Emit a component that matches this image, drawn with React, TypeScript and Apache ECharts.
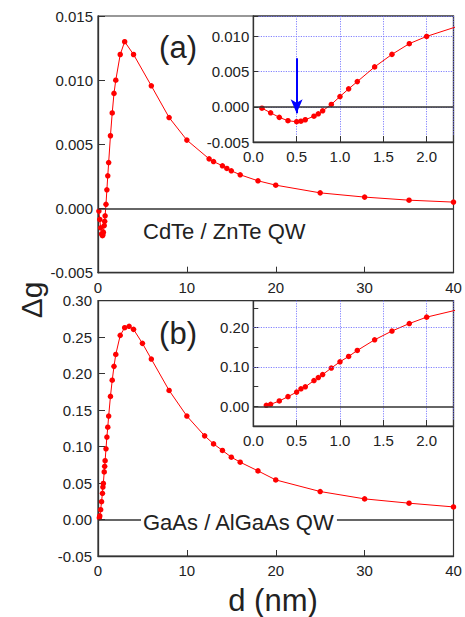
import { useEffect, useRef } from 'react';
import * as echarts from 'echarts';

const FONT = '"Liberation Sans", Arial, Helvetica, sans-serif';

// CdTe / ZnTe quantum well: well width d (nm) and g-factor difference
const cdteD = [0.1, 0.2, 0.3, 0.4, 0.5, 0.55, 0.6, 0.7, 0.75, 0.8, 0.9, 1.0, 1.1, 1.2, 1.4, 1.6, 1.8, 2.0, 2.5, 3, 4, 6, 8, 10, 12.5, 13, 14, 14.5, 15, 16, 18, 20, 25, 30, 35, 40];
const cdteG = [-0.0002, -0.00085, -0.0015, -0.00198, -0.00212, -0.00204, -0.00184, -0.00133, -0.001, -0.00057, 0.00033, 0.00146, 0.00255, 0.00358, 0.00567, 0.00745, 0.00897, 0.01, 0.012, 0.013, 0.012, 0.00956, 0.00709, 0.00533, 0.00387, 0.00366, 0.00333, 0.00312, 0.00294, 0.00263, 0.00216, 0.00182, 0.00122, 0.00089, 0.00065, 0.0005];

// GaAs / AlGaAs quantum well
const gaasD = [0.15, 0.2, 0.3, 0.4, 0.5, 0.55, 0.6, 0.7, 0.75, 0.8, 0.9, 1.0, 1.1, 1.2, 1.4, 1.6, 1.8, 2.0, 2.5, 3.0, 3.5, 4, 5, 6, 8, 10, 12, 13, 14, 15, 16, 18, 20, 25, 30, 35, 40];
const gaasG = [0.0025, 0.005, 0.0135, 0.0245, 0.036, 0.0445, 0.0494, 0.0653, 0.073, 0.0806, 0.097, 0.113, 0.1266, 0.1418, 0.1688, 0.191, 0.21, 0.2263, 0.2525, 0.263, 0.2649, 0.2607, 0.2415, 0.22, 0.177, 0.1418, 0.1147, 0.1037, 0.0947, 0.0855, 0.0786, 0.0667, 0.0543, 0.0384, 0.0283, 0.0224, 0.0173];

// horizontal grid lines of the GaAs inset (its ticks run every 0.05)
const insetBottomGridY = [0.1, 0.2];

// arrow marking the minimum in the CdTe inset (d, start g, end g)
const arrowD = 0.5;
const arrowFromG = 0.0069;
const arrowToG = -0.0009;

const RED = '#ff0000';
const AXIS = '#333';
const TEXT = '#222';

const pairs = (xs: number[], ys: number[]) => xs.map((x, i) => [x, ys[i]]);

const fmtStep = (step: number, digits: number) => (v: number) => {
  const k = v / step;
  if (Math.abs(k - Math.round(k)) > 1e-6) return '';
  return (Math.abs(v) < 1e-12 ? 0 : v).toFixed(digits);
};

const gridStyle = { color: '#6d6dff', width: 1, type: [1.2, 1.3], opacity: 0.85 };
const zeroStyle = { color: '#333', width: 1.5, type: 'solid' as const };

function xAxisCfg(gridIndex: number, inset: boolean) {
  return {
    gridIndex,
    type: 'value',
    min: 0,
    max: inset ? 2.31 : 40,
    interval: inset ? 0.5 : 10,
    axisLine: { show: true, onZero: false, lineStyle: { color: AXIS, width: 1.3 } },
    axisTick: { show: true, inside: true, length: 6, lineStyle: { color: AXIS, width: 1 } },
    axisLabel: {
      fontSize: 15,
      color: TEXT,
      fontFamily: FONT,
      margin: 7,
      formatter: inset ? fmtStep(0.5, 1) : fmtStep(10, 0),
    },
    splitLine: { show: inset, lineStyle: gridStyle },
  };
}

function yAxisCfg(gridIndex: number, min: number, max: number, interval: number, fmt: (v: number) => string, margin: number, tickLen: number, split: boolean) {
  return {
    gridIndex,
    type: 'value',
    min,
    max,
    interval,
    axisLine: { show: true, onZero: false, lineStyle: { color: AXIS, width: 1.3 } },
    axisTick: { show: true, inside: true, length: tickLen, lineStyle: { color: AXIS, width: 1 } },
    axisLabel: { fontSize: 15, color: TEXT, fontFamily: FONT, margin, formatter: fmt },
    splitLine: { show: split, lineStyle: gridStyle },
  };
}

function lineSeries(xi: number, data: number[][], markData: any[]) {
  return {
    type: 'line',
    xAxisIndex: xi,
    yAxisIndex: xi,
    data,
    clip: true,
    symbol: 'circle',
    symbolSize: 5.5,
    itemStyle: { color: RED },
    lineStyle: { color: RED, width: 1 },
    emphasis: { disabled: true },
    markLine: {
      silent: true,
      symbol: 'none',
      label: { show: false },
      emphasis: { disabled: true },
      lineStyle: zeroStyle,
      data: markData,
    },
  };
}

export default function App() {
  const ref = useRef<HTMLDivElement>(null);

  useEffect(() => {
    if (!ref.current) return;
    const chart = echarts.init(ref.current, null, { renderer: 'svg' });

    const gridFrame = { show: true, borderColor: AXIS, borderWidth: 1.2, backgroundColor: 'transparent', outerBoundsMode: 'none' };

    const topInsetMarks = [
      { yAxis: 0, lineStyle: zeroStyle },
      [
        { coord: [arrowD, arrowFromG], symbol: 'none', lineStyle: { color: '#0000ff', width: 2, type: 'solid' } },
        { coord: [arrowD, arrowToG], symbol: 'arrow', symbolSize: [9, 14] },
      ],
    ];
    const bottomInsetMarks = [
      ...insetBottomGridY.map((v) => ({ yAxis: v, lineStyle: gridStyle })),
      { yAxis: 0, lineStyle: zeroStyle },
    ];

    const option: any = {
      animation: false,
      grid: [
        { ...gridFrame, left: 98, top: 16, width: 355.5, height: 256.7 },
        { ...gridFrame, left: 253.3, top: 16, width: 200.2, height: 126 },
        { ...gridFrame, left: 98, top: 300.7, width: 355.5, height: 255.3 },
        { ...gridFrame, left: 253.3, top: 300.7, width: 200.2, height: 125.3 },
      ],
      xAxis: [xAxisCfg(0, false), xAxisCfg(1, true), xAxisCfg(2, false), xAxisCfg(3, true)],
      yAxis: [
        yAxisCfg(0, -0.005, 0.015, 0.005, fmtStep(0.005, 3), 5, 7, false),
        yAxisCfg(1, -0.005, 0.0129, 0.005, fmtStep(0.005, 3), 4, 5, true),
        yAxisCfg(2, -0.05, 0.3, 0.05, fmtStep(0.05, 2), 6, 7, false),
        yAxisCfg(3, -0.05, 0.268, 0.05, fmtStep(0.1, 2), 4, 5, false),
      ],
      series: [
        lineSeries(0, pairs(cdteD, cdteG), [{ yAxis: 0 }]),
        lineSeries(1, pairs(cdteD, cdteG), topInsetMarks),
        lineSeries(2, pairs(gaasD, gaasG), [{ yAxis: 0 }]),
        lineSeries(3, pairs(gaasD, gaasG), bottomInsetMarks),
      ],
      graphic: [
        { type: 'text', z: 100, x: 178, y: 47, style: { text: '(a)', fontSize: 31, fontFamily: FONT, fill: TEXT, align: 'center', verticalAlign: 'middle' } },
        { type: 'text', z: 100, x: 178, y: 333, style: { text: '(b)', fontSize: 31, fontFamily: FONT, fill: TEXT, align: 'center', verticalAlign: 'middle' } },
        { type: 'text', z: 100, x: 143, y: 231, style: { text: 'CdTe / ZnTe QW', fontSize: 22, fontFamily: FONT, fill: TEXT, align: 'left', verticalAlign: 'middle' } },
        { type: 'text', z: 100, x: 141, y: 522, style: { text: 'GaAs / AlGaAs QW', fontSize: 22, fontFamily: FONT, fill: TEXT, align: 'left', verticalAlign: 'middle', backgroundColor: '#ffffff', padding: [0, 2] } },
        { type: 'text', z: 100, x: 31, y: 300, rotation: Math.PI / 2, style: { text: 'Δg', fontSize: 30, fontFamily: FONT, fill: TEXT, align: 'center', verticalAlign: 'middle' } },
        { type: 'text', z: 100, x: 273, y: 600, style: { text: 'd (nm)', fontSize: 31, fontFamily: FONT, fill: TEXT, align: 'center', verticalAlign: 'middle' } },
      ],
    };

    chart.setOption(option);
    return () => chart.dispose();
  }, []);

  return <div ref={ref} style={{ position: 'fixed', left: 0, top: 0, width: 465, height: 617, background: '#fff' }} />;
}
